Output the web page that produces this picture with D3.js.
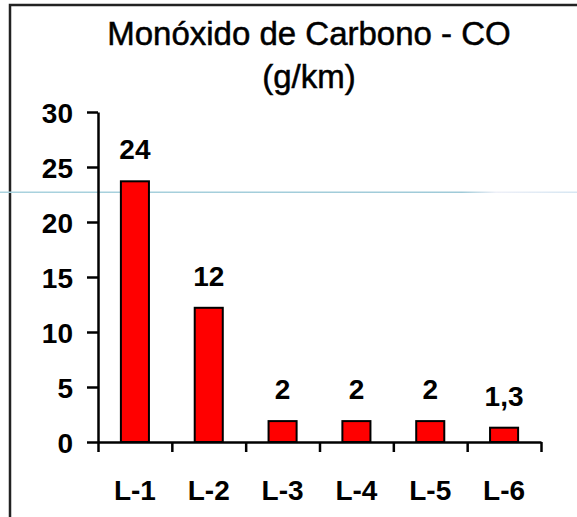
<!DOCTYPE html>
<html>
<head>
<meta charset="utf-8">
<script src="https://cdn.jsdelivr.net/npm/d3@7"></script>
<style>
  body { margin: 0; background: #fff; }
  text { font-family: "Liberation Sans", Arial, sans-serif; fill: #000; }
  .bar { fill: #ff0000; stroke: #000; stroke-width: 2; }
</style>
</head>
<body>
<svg id="chart" width="577" height="517"></svg>
<script>
// chart data
var categories = ["L-1", "L-2", "L-3", "L-4", "L-5", "L-6"];
var values = [23.7, 12.2, 1.9, 1.9, 1.9, 1.3];
var valueLabels = ["24", "12", "2", "2", "2", "1,3"];
var yTicks = [0, 5, 10, 15, 20, 25, 30];
var titleLines = ["Monóxido de Carbono - CO", "(g/km)"];

var svg = d3.select("#chart");

var plotLeft = 98, plotRight = 541, plotTop = 112, plotBottom = 442;

var x = d3.scaleBand().domain(categories).range([plotLeft, plotRight])
    .paddingInner(0.62).paddingOuter(0.31);
var y = d3.scaleLinear().domain([0, 30]).range([plotBottom, plotTop]);
// band edges for the category tick marks
var xEdges = d3.scaleLinear().domain([0, categories.length]).range([plotLeft, plotRight]);

// outer frame (runs off the right and bottom edges)
svg.append("rect")
    .attr("x", 10).attr("y", 5)
    .attr("width", 700).attr("height", 700)
    .attr("fill", "none")
    .attr("stroke", "#222")
    .attr("stroke-width", 2.5);

// stray light blue line across the picture
var grad = svg.append("defs").append("linearGradient").attr("id", "blue");
grad.append("stop").attr("offset", "0%").attr("stop-color", "#a9d2de");
grad.append("stop").attr("offset", "80%").attr("stop-color", "#9fcad8");
grad.append("stop").attr("offset", "86%").attr("stop-color", "#eef0f8");
grad.append("stop").attr("offset", "100%").attr("stop-color", "#d6e6f2");
svg.append("rect")
    .attr("x", 0).attr("y", 191.5)
    .attr("width", 577).attr("height", 1.5)
    .attr("fill", "url(#blue)");

// title
svg.selectAll(".title")
    .data(titleLines)
    .enter()
    .append("text")
    .attr("class", "title")
    .attr("x", 309)
    .attr("y", function(d, i) { return 45 + i * 43; })
    .attr("text-anchor", "middle")
    .style("font-size", "33px")
    .style("stroke", "#000")
    .style("stroke-width", 0.5)
    .text(function(d) { return d; });

// bars
svg.selectAll(".bar")
    .data(values)
    .enter()
    .append("rect")
    .attr("class", "bar")
    .attr("x", function(d, i) { return x(categories[i]); })
    .attr("y", function(d) { return y(d); })
    .attr("width", x.bandwidth())
    .attr("height", function(d) { return plotBottom - y(d); });

// value labels
svg.selectAll(".val")
    .data(values)
    .enter()
    .append("text")
    .attr("class", "val")
    .attr("x", function(d, i) { return x(categories[i]) + x.bandwidth() / 2; })
    .attr("y", function(d) { return y(d) - 22; })
    .attr("text-anchor", "middle")
    .style("font-size", "28px")
    .style("font-weight", "bold")
    .text(function(d, i) { return valueLabels[i]; });

// y axis
var yAxis = svg.append("g")
    .attr("transform", "translate(" + plotLeft + ",0)")
    .call(d3.axisLeft(y).tickValues(yTicks).tickSize(11).tickSizeOuter(0).tickPadding(14));
yAxis.selectAll("text")
    .style("font-size", "28px")
    .style("font-weight", "bold")
    .attr("fill", "#000")
    .attr("dy", "0.36em");

// x axis: tick marks at band edges
svg.append("g")
    .attr("transform", "translate(0," + plotBottom + ")")
    .call(d3.axisBottom(xEdges).ticks(categories.length).tickSize(10).tickSizeOuter(0).tickFormat(""));

// x axis: category labels
var xAxis = svg.append("g")
    .attr("transform", "translate(0," + plotBottom + ")")
    .call(d3.axisBottom(x).tickSize(0).tickPadding(38));
xAxis.select(".domain").remove();
xAxis.selectAll("text")
    .style("font-size", "28px")
    .style("font-weight", "bold")
    .attr("fill", "#000");

svg.selectAll(".domain, .tick line")
    .attr("stroke", "#000")
    .attr("stroke-width", 2.5);
</script>
</body>
</html>
